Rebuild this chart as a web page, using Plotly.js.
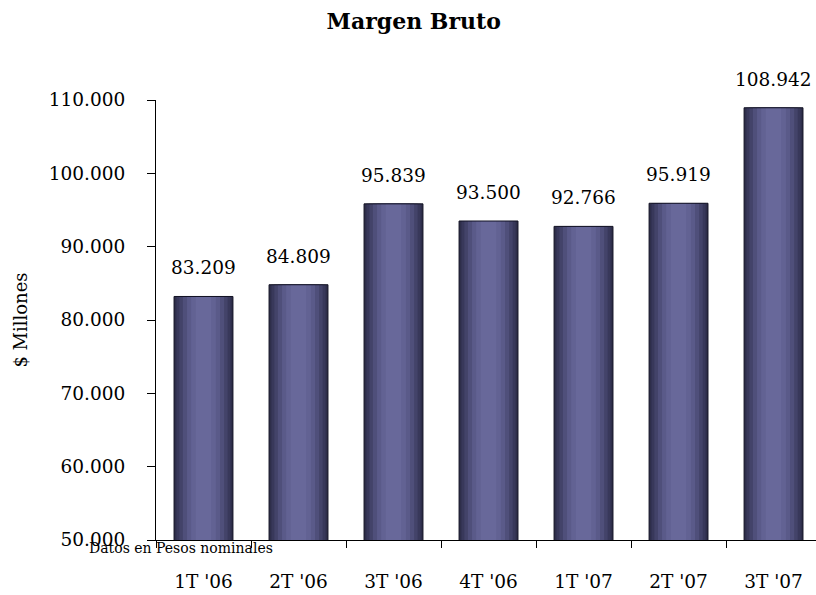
<!DOCTYPE html>
<html>
<head>
<meta charset="utf-8">
<script src="https://cdn.plot.ly/plotly-3.0.1.min.js"></script>
<style>html,body{margin:0;padding:0;background:#fff;}</style>
</head>
<body>
<div id="chart" style="width:816px;height:595px;"></div>
<script>
const categories = ["1T '06", "2T '06", "3T '06", "4T '06", "1T '07", "2T '07", "3T '07"];
const values = [83209, 84809, 95839, 93500, 92766, 95919, 108942];
const yTicks = [50000, 60000, 70000, 80000, 90000, 100000, 110000];

const FONT = "DejaVu Serif, Liberation Serif, serif";
const BARW = 0.62;
// cylinder-like shading: outer (dark) to inner (light)
const shades = [
  {f: 1.00, c: '#2e2e4a'},
  {f: 0.92, c: '#38385a'},
  {f: 0.82, c: '#434369'},
  {f: 0.70, c: '#4f4f7a'},
  {f: 0.56, c: '#5a5a89'},
  {f: 0.42, c: '#626293'},
  {f: 0.26, c: '#68689a'}
];

const traces = shades.map(s => ({
  type: 'bar', x: categories, y: values,
  width: BARW * s.f,
  marker: {color: s.c, line: {width: 0}},
  hoverinfo: 'skip', showlegend: false
}));
traces.push({
  type: 'bar', x: categories, y: values, width: BARW,
  marker: {color: 'rgba(0,0,0,0)', line: {width: 1, color: '#111122'}},
  hoverinfo: 'skip', showlegend: false
});

const fmt = v => v.toString().replace(/\B(?=(\d{3})+(?!\d))/g, '.');

const annotations = categories.map((c, i) => ({
  x: c, y: values[i], xref: 'x', yref: 'y',
  text: fmt(values[i]), showarrow: false,
  yanchor: 'bottom', yshift: 16,
  font: {family: FONT, size: 18.5, color: '#000'}
}));
annotations.push({
  xref: 'paper', yref: 'paper', x: -0.104, y: -0.019,
  xanchor: 'left', yanchor: 'middle', showarrow: false,
  text: 'Datos en Pesos nominales',
  font: {family: FONT, size: 14, color: '#000'}
});

const layout = {
  width: 816, height: 595,
  margin: {l: 156, r: 0, t: 100, b: 55, pad: 0},
  paper_bgcolor: '#fff', plot_bgcolor: '#fff',
  separators: ',.',
  barmode: 'overlay',
  font: {family: FONT, color: '#000'},
  title: {
    text: '<b>Margen Bruto</b>',
    font: {family: FONT, size: 22, color: '#000'},
    x: 0.507, xref: 'container', xanchor: 'center',
    y: 1 - 21 / 595, yref: 'container', yanchor: 'middle'
  },
  xaxis: {
    type: 'category', range: [-0.5, 6.447],
    showline: true, linecolor: '#000', linewidth: 1,
    ticks: 'outside', tickson: 'boundaries', ticklen: 7, tickcolor: '#000',
    showgrid: false, zeroline: false,
    tickfont: {family: FONT, size: 18.5, color: '#000'},
    ticklabelstandoff: 25
  },
  yaxis: {
    range: [50000, 110000], tickvals: yTicks,
    tickformat: ',d',
    showline: true, linecolor: '#000', linewidth: 1,
    ticks: 'outside', ticklen: 8, tickcolor: '#000',
    showgrid: false, zeroline: false,
    tickfont: {family: FONT, size: 18.5, color: '#000'},
    ticklabelstandoff: 18,
    title: {text: '$ Millones', font: {family: FONT, size: 18, color: '#000'}, standoff: 16}
  },
  annotations: annotations
};

Plotly.newPlot('chart', traces, layout, {displayModeBar: false, staticPlot: true});
</script>
</body>
</html>
